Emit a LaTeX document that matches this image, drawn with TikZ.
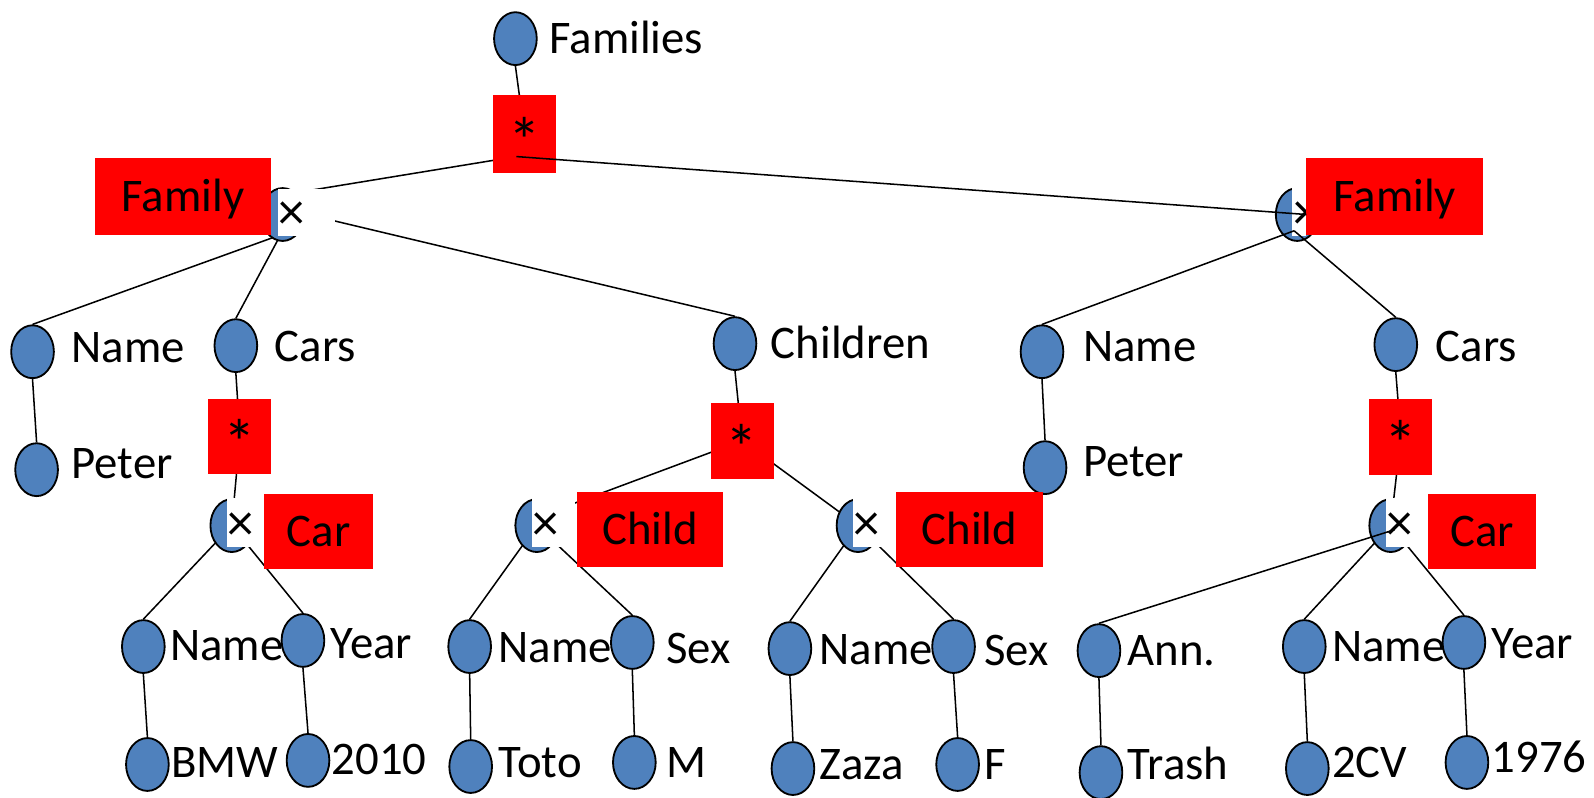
\documentclass[tikz,border=0pt]{standalone}
\usepackage{fontspec}
\setmainfont{Carlito}
\usetikzlibrary{shapes.geometric}
\definecolor{ellblue}{RGB}{79,129,189}
\newcommand\lbf{\fontsize{23}{27}\selectfont}
\newcommand\xmf{\fontsize{26}{30}\selectfont}
\newcommand\stf{\fontsize{32}{36}\selectfont}
\pgfdeclarelayer{bg}
\pgfsetlayers{bg,main}
\begin{document}
\begin{tikzpicture}[x=0.5pt,y=-0.5pt,
  el/.style={ellipse, draw=black, line width=0.9pt, fill=ellblue, minimum width=21pt, minimum height=26pt, inner sep=0pt},
  lbl/.style={anchor=west, inner sep=0pt, font=\lbf, text height=14.8pt, text depth=0pt},
  rbox/.style={fill=red, inner sep=0pt, font=\lbf, text height=14.8pt, text depth=0pt},
  sbox/.style={fill=red, inner sep=0pt, font=\stf, text height=28.9pt, text depth=0pt},
  conn/.style={line width=0.75pt},
  xmark/.style={anchor=base, inner sep=0pt, font=\xmf},
  wbox/.style={fill=white, draw=none}
]
\useasboundingbox (0,0) rectangle (1568,784);

% ellipses
\node[el] (families) at (507,38) {};
\node[el] (name1) at (32,346) {};
\node[el] (peter1) at (36,462) {};
\node[el] (cars1) at (232,340) {};
\node[el] (children) at (723,338) {};
\node[el] (name2) at (1025,346) {};
\node[el] (peter2) at (1028,460) {};
\node[el] (cars2) at (1373,339) {};
\node[el] (fam1x) at (278,211) {};
\node[el] (fam2x) at (1276,211) {};
\node[el] (car1x) at (228,517) {};
\node[el] (child1x) at (528,517) {};
\node[el] (child2x) at (844,517) {};
\node[el] (car2x) at (1368,517) {};
\node[el] (n1) at (141,636) {};
\node[el] (y1) at (298,630) {};
\node[el] (n2) at (462,636) {};
\node[el] (s1) at (622,632) {};
\node[el] (n3) at (777,638) {};
\node[el] (s2) at (938,636) {};
\node[el] (ann) at (1081,640) {};
\node[el] (n4) at (1283,636) {};
\node[el] (y2) at (1440,632) {};
\node[el] (bmw) at (145,752) {};
\node[el] (v2010) at (303,748) {};
\node[el] (toto) at (463,754) {};
\node[el] (m) at (624,750) {};
\node[el] (zaza) at (780,756) {};
\node[el] (f) at (942,752) {};
\node[el] (trash) at (1083,760) {};
\node[el] (cv) at (1286,756) {};
\node[el] (v1976) at (1443,750) {};

% white masks over the product nodes
\fill[wbox] (273,186) rectangle (330,232);
\fill[wbox] (1271,184) rectangle (1285,232);
\fill[wbox] (223,490) rectangle (258,538);
\fill[wbox] (523,490) rectangle (566,538);
\fill[wbox] (839,490) rectangle (879,538);
\fill[wbox] (1363,490) rectangle (1403,538);

% product marks
\node[xmark] (xm1) at (287,226) {×};
\node[xmark] (xm2) at (1285,226) {×};
\node[xmark] (xm3) at (237,532) {×};
\node[xmark] (xm4) at (537,532) {×};
\node[xmark] (xm5) at (853,532) {×};
\node[xmark] (xm6) at (1377,532) {×};

% junction coordinates
\coordinate (topj) at (508,154);
\coordinate (fam1t) at (276,192);
\coordinate (fam1j) at (276,231);
\coordinate (fam1c) at (290,208);
\coordinate (fam2j) at (1273,227);
\coordinate (fam2m) at (1285,211);
\coordinate (car2m) at (1372,521);

% lines drawn over the shapes
\draw[conn] (fam2j) -- (name2.north);
\draw[conn] (fam2j) -- (cars2.north);
\draw[conn] (ann.north) -- (car2m);

% red boxes
\node[sbox, minimum width=31pt, minimum height=38.5pt] (star0) at (516,131.5) {*};
\node[rbox, minimum width=87pt, minimum height=38pt] (fam1lab) at (180,193) {Family};
\node[rbox, minimum width=87pt, minimum height=38pt] (fam2lab) at (1372,193) {Family};
\node[sbox, minimum width=31pt, minimum height=37pt] (star1) at (236,429) {*};
\node[sbox, minimum width=31pt, minimum height=37.5pt] (star2) at (730,433.5) {*};
\node[sbox, minimum width=31pt, minimum height=37.5pt] (star3) at (1378,429.5) {*};
\node[rbox, minimum width=53.5pt, minimum height=37pt] (car1lab) at (313.5,523) {Car};
\node[rbox, minimum width=71.5pt, minimum height=37pt] (child1lab) at (639.5,521) {Child};
\node[rbox, minimum width=72.5pt, minimum height=37pt] (child2lab) at (953.5,521) {Child};
\node[rbox, minimum width=53pt, minimum height=37pt] (car2lab) at (1458,523) {Car};

\draw[conn] (topj) -- (fam2m);

% labels
\node[lbl] (lfamilies) at (540,38) {Families};
\node[lbl] (lname1) at (70,342) {Name};
\node[lbl] (lcars1) at (270,341) {Cars};
\node[lbl] (lchildren) at (758,338) {Children};
\node[lbl] (lname2) at (1065,341) {Name};
\node[lbl] (lcars2) at (1412,341) {Cars};
\node[lbl] (lpeter1) at (70,456) {Peter};
\node[lbl] (lpeter2) at (1065,454) {Peter};
\node[lbl] (ln1) at (167,635) {Name};
\node[lbl] (ly1) at (325,633) {Year};
\node[lbl] (ln2) at (490,637) {Name};
\node[lbl] (ls1) at (655,638) {Sex};
\node[lbl] (ln3) at (806,639) {Name};
\node[lbl] (ls2) at (968,640) {Sex};
\node[lbl] (lann) at (1109,640) {Ann.};
\node[lbl] (ln4) at (1310,636) {Name};
\node[lbl] (ly2) at (1467,633) {Year};
\node[lbl] (lbmw) at (168,750) {BMW};
\node[lbl] (l2010) at (326,747) {2010};
\node[lbl] (ltoto) at (490,750) {Toto};
\node[lbl] (lm) at (655,750) {M};
\node[lbl] (lzaza) at (806,752) {Zaza};
\node[lbl] (lf) at (968,752) {F};
\node[lbl] (ltrash) at (1109,752) {Trash};
\node[lbl] (lcv) at (1310,750) {2CV};
\node[lbl] (l1976) at (1467,745) {1976};

% lines behind the shapes
\begin{pgfonlayer}{bg}
\draw[conn] (families.south) -- (star0.center);
\draw[conn] (topj) -- (fam1t);
\draw[conn] (fam1j) -- (name1.north);
\draw[conn] (fam1j) -- (cars1.north);
\draw[conn] (fam1c) -- (children.north);
\draw[conn] (name1.south) -- (peter1.north);
\draw[conn] (name2.south) -- (peter2.north);
\draw[conn] (cars1.south) -- (star1.center);
\draw[conn] (star1.center) -- (car1x.center);
\draw[conn] (children.south) -- (star2.center);
\draw[conn] (star2.center) -- (child1x.west);
\draw[conn] (star2.center) -- (child2x.center);
\draw[conn] (cars2.south) -- (star3.center);
\draw[conn] (star3.center) -- (car2x.center);
\draw[conn] (car1x.center) -- (n1.north);
\draw[conn] (car1x.center) -- (y1.north);
\draw[conn] (child1x.center) -- (n2.north);
\draw[conn] (child1x.center) -- (s1.north);
\draw[conn] (child2x.center) -- (n3.north);
\draw[conn] (child2x.center) -- (s2.north);
\draw[conn] (car2x.center) -- (n4.north);
\draw[conn] (car2x.center) -- (y2.north);
\draw[conn] (n1.south) -- (bmw.north);
\draw[conn] (y1.south) -- (v2010.north);
\draw[conn] (n2.south) -- (toto.north);
\draw[conn] (s1.south) -- (m.north);
\draw[conn] (n3.south) -- (zaza.north);
\draw[conn] (s2.south) -- (f.north);
\draw[conn] (ann.south) -- (trash.north);
\draw[conn] (n4.south) -- (cv.north);
\draw[conn] (y2.south) -- (v1976.north);
\end{pgfonlayer}
\end{tikzpicture}
\end{document}
